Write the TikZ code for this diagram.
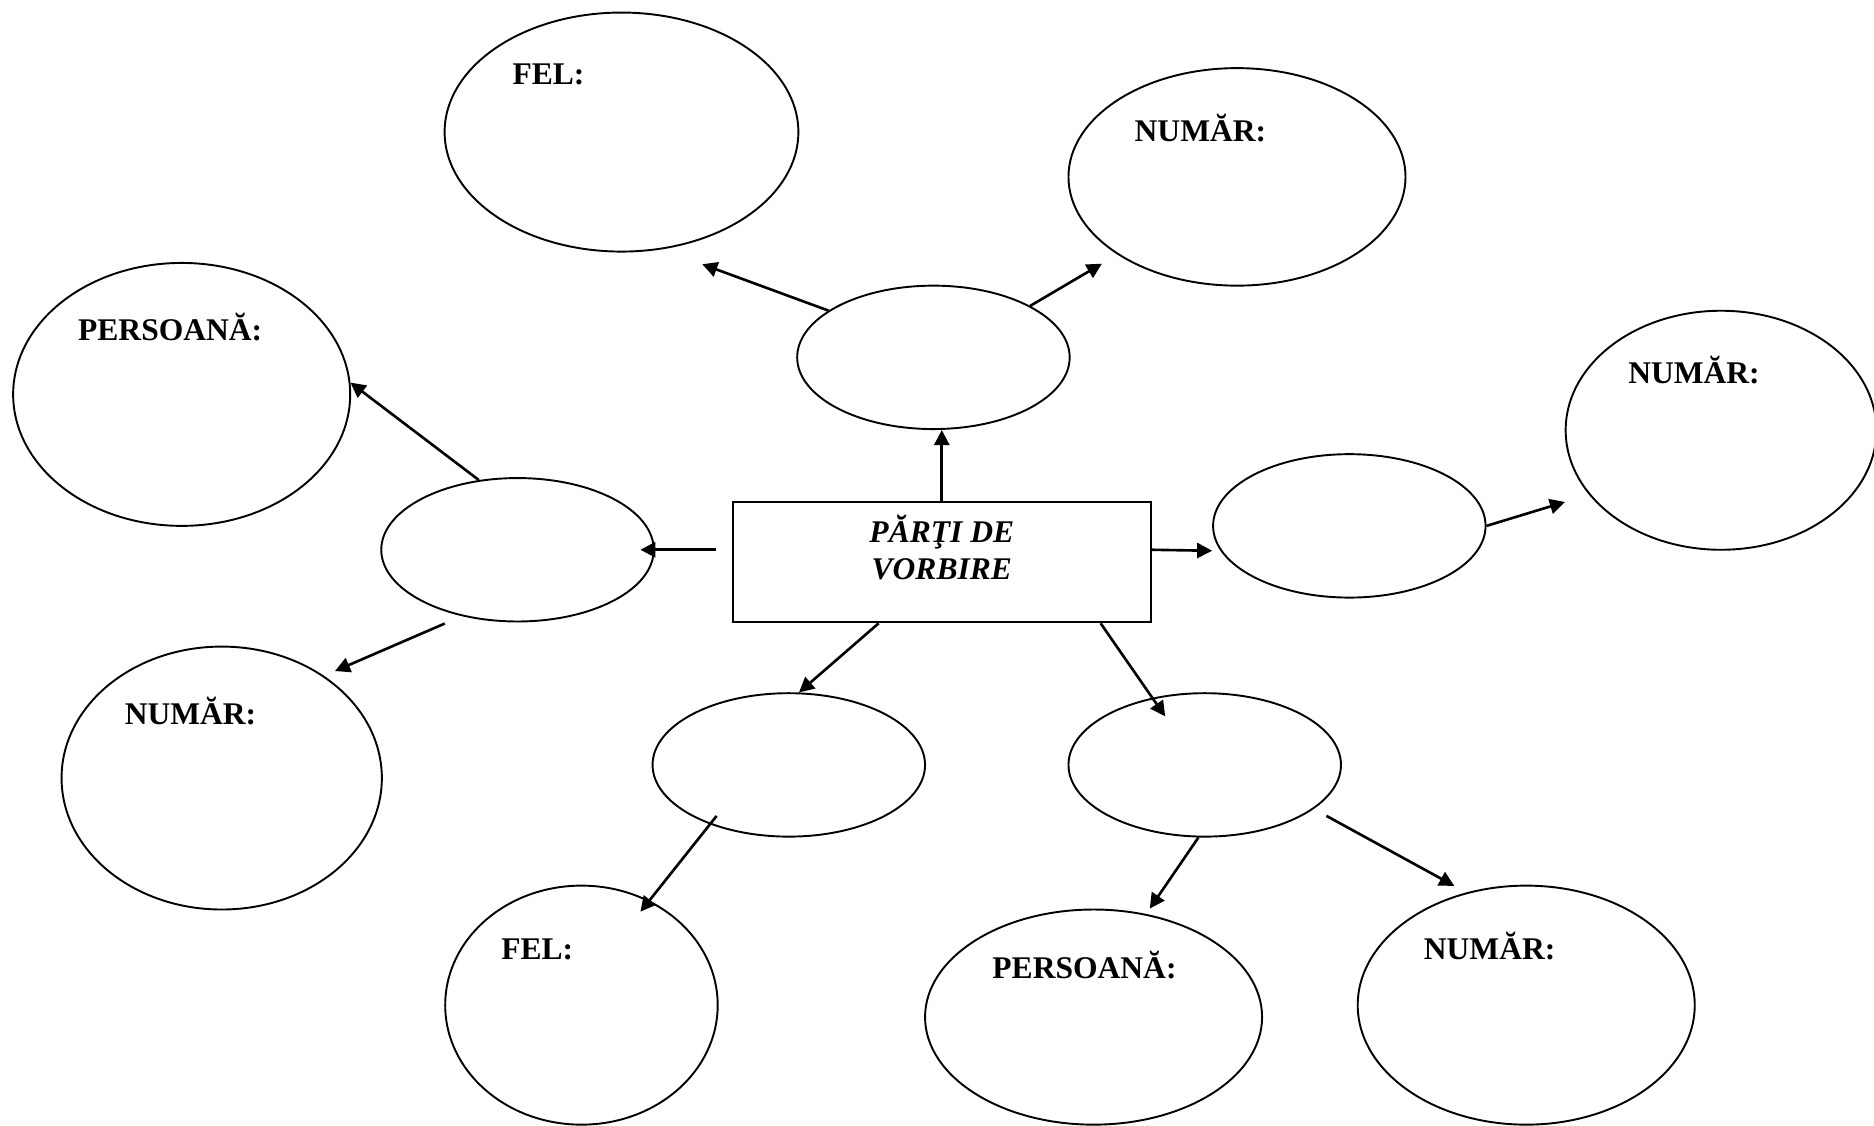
\documentclass[tikz,border=0pt]{standalone}
\usepackage{fontspec}
\setmainfont{Liberation Serif}
\usetikzlibrary{arrows.meta,shapes.geometric}

\begin{document}
\begin{tikzpicture}[x=0.5pt,y=-0.5pt,
  oval/.style={draw,ellipse,line width=0.8pt,inner sep=0pt},
  box/.style={draw,rectangle,line width=0.8pt,inner sep=0pt},
  lbl/.style={anchor=base west,inner sep=0pt,font=\fontsize{13.2}{15.3}\selectfont\bfseries},
  arr/.style={-{Triangle[length=6.3pt,width=6.3pt]},line width=1.1pt}]
\useasboundingbox (0,0) rectangle (1568,942);

% centre
\node[box,minimum width=175pt,minimum height=50.2pt] (parti) at (788,470.5) {};
\node[inner sep=0pt,align=center,font=\fontsize{13.2}{15.3}\selectfont\bfseries\itshape] (partitxt) at (788,458) {PĂRŢI DE\\VORBIRE};

% small ovals
\node[oval,minimum width=114pt,minimum height=60pt] (e1) at (781,299) {};
\node[oval,minimum width=114pt,minimum height=60pt] (e2) at (433,460) {};
\node[oval,minimum width=114pt,minimum height=60pt] (e3) at (1129,440) {};
\node[oval,minimum width=114pt,minimum height=60pt] (e4) at (660,640) {};
\node[oval,minimum width=114pt,minimum height=60pt] (e5) at (1008,640) {};

% big ovals
\node[oval,minimum width=148pt,minimum height=100pt] (fel1) at (520,110.5) {};
\node[lbl] (fel1txt) at (428.5,71) {FEL:};

\node[oval,minimum width=141pt,minimum height=91pt] (nr1) at (1035,148) {};
\node[lbl] (nr1txt) at (949,118.5) {NUMĂR:};

\node[oval,minimum width=141pt,minimum height=110pt] (pers1) at (152,330) {};
\node[lbl] (pers1txt) at (65,284.5) {PERSOANĂ:};

\node[oval,minimum width=130pt,minimum height=100pt] (nr2) at (1440,360) {};
\node[lbl] (nr2txt) at (1362,321) {NUMĂR:};

\node[oval,minimum width=134pt,minimum height=110pt] (nr3) at (185.5,651) {};
\node[lbl] (nr3txt) at (104,606) {NUMĂR:};

\node[oval,minimum width=114pt,minimum height=100pt] (fel2) at (486.5,841) {};
\node[lbl] (fel2txt) at (419,803) {FEL:};

\node[oval,minimum width=141pt,minimum height=90pt] (pers2) at (915,851) {};
\node[lbl] (pers2txt) at (830,819) {PERSOANĂ:};

\node[oval,minimum width=141pt,minimum height=100pt] (nr4) at (1277,841) {};
\node[lbl] (nr4txt) at (1191,803) {NUMĂR:};

% arrows
\draw[arr] (parti.north) -- (parti.north |- e1.south);
\draw[arr,shorten >=18pt] (e1.156) -- (fel1.-71);
\draw[arr,shorten >=7.5pt] (e1.28) -- (nr1.-147);
\draw[arr] (e2.119) -- (pers1.4);
\draw[arr,shorten <=6.5pt,shorten >=-6pt] (e2.east -| parti.west) -- (e2.east);
\draw[arr,shorten >=3.5pt] (e2.east -| parti.east) -- (e3.191);
\draw[arr,shorten >=10.5pt] (e3.east) -- (nr2.206);
\draw[arr,shorten <=7.75pt,shorten >=5pt] (e2.230) -- (nr3.45);
\draw[arr] (parti.224) -- (e4.82);
\draw[arr,shorten >=-9.5pt] (parti.-21) -- (e5.128);
\draw[arr,shorten <=-4.5pt,shorten >=-6pt] (e4.217) -- (fel2.57);
\draw[arr,shorten >=2.7pt] (e5.-95) -- (pers2.63);
\draw[arr,shorten <=6pt,shorten >=5.7pt] (e5.-22) -- (nr4.118);
\end{tikzpicture}
\end{document}
